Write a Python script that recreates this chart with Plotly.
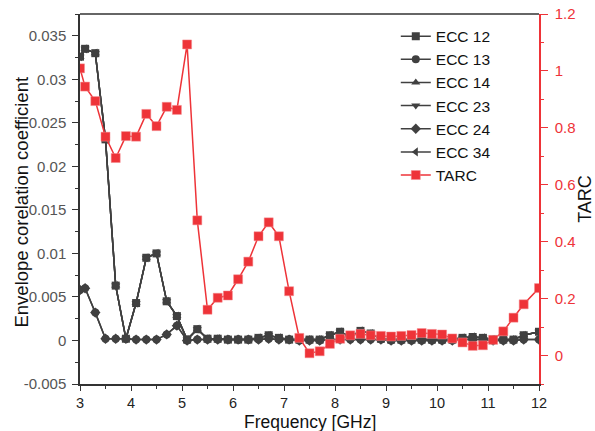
import plotly.graph_objects as go

freq = [3.0, 3.1, 3.3, 3.5, 3.7, 3.9, 4.1, 4.3, 4.5, 4.7, 4.9, 5.1, 5.3, 5.5, 5.7, 5.9,
        6.1, 6.3, 6.5, 6.7, 6.9, 7.1, 7.3, 7.5, 7.7, 7.9, 8.1, 8.3, 8.5, 8.7, 8.9,
        9.1, 9.3, 9.5, 9.7, 9.9, 10.1, 10.3, 10.5, 10.7, 10.9, 11.1, 11.3, 11.5, 11.7, 12.0]

tarc = [1.009, 0.945, 0.894, 0.769, 0.694, 0.771, 0.769, 0.849, 0.806, 0.874, 0.863, 1.093,
        0.475, 0.161, 0.203, 0.211, 0.268, 0.330, 0.419, 0.468, 0.419, 0.226, 0.062, 0.008,
        0.015, 0.041, 0.059, 0.071, 0.076, 0.071, 0.069, 0.067, 0.069, 0.072, 0.079, 0.076,
        0.074, 0.060, 0.046, 0.034, 0.036, 0.055, 0.085, 0.133, 0.180, 0.237]

# adjacent-port pairs (upper curve)
ecc_high = [0.0326, 0.0335, 0.0330, 0.0231, 0.0063, 0.0002, 0.0043, 0.0095, 0.0100, 0.0045,
            0.0028, 0.0001, 0.0013, 0.0002, 0.0002, 0.0001, 0.0001, 0.0001, 0.0003, 0.0006,
            0.0003, 0.0001, 0.0001, 0.0001, 0.0001, 0.0006, 0.0010, 0.0004, 0.0011, 0.0008,
            0.0002, 0.0001, 0.0001, 0.0001, 0.0001, 0.0001, 0.0001, 0.0001, 0.0003, 0.0004,
            0.0003, 0.0001, 0.0001, 0.0001, 0.0006, 0.0010]
# diagonal-port pairs (lower curve)
ecc_low = [0.0058, 0.0060, 0.0032, 0.0002, 0.0002, 0.0002, 0.0001, 0.0001, 0.0001, 0.0007,
           0.0017, 0.0000, 0.0001, 0.0001, 0.0001, 0.0001, 0.0001, 0.0001, 0.0001, 0.0002,
           0.0001, 0.0001, 0.0000, 0.0000, 0.0000, 0.0001, 0.0001, 0.0001, 0.0001, 0.0001,
           0.0001, 0.0000, 0.0000, 0.0000, 0.0000, 0.0000, 0.0000, 0.0000, 0.0001, 0.0001,
           0.0001, 0.0000, 0.0000, 0.0000, 0.0001, 0.0001]

ecc_names = ["ECC 12", "ECC 13", "ECC 14", "ECC 23", "ECC 24", "ECC 34"]
ecc_values = [ecc_high, ecc_low, ecc_high, ecc_high, ecc_low, ecc_high]
ecc_symbols = ["square", "circle", "triangle-up", "triangle-down", "diamond", "triangle-left"]

GRAY = "#404040"
RED = "#EE3338"
FONT = "Liberation Sans, Arial, sans-serif"

fig = go.Figure()
for name, vals, sym in zip(ecc_names, ecc_values, ecc_symbols):
    fig.add_trace(go.Scatter(
        x=freq, y=vals, name=name, mode="lines+markers",
        line=dict(color=GRAY, width=1.5),
        marker=dict(symbol=sym, size=8, color=GRAY),
        yaxis="y"))

fig.add_trace(go.Scatter(
    x=freq, y=tarc, name="TARC", mode="lines+markers",
    line=dict(color=RED, width=1.5),
    marker=dict(symbol="square", size=9, color=RED, line=dict(color="#F58A8E", width=0.5)),
    yaxis="y2"))

fig.update_layout(
    width=595, height=431,
    margin=dict(l=80, r=56, t=14, b=47, autoexpand=False),
    paper_bgcolor="white", plot_bgcolor="white",
    font=dict(family=FONT, size=15, color="#222222"),
    showlegend=True,
    legend=dict(x=0.688, y=0.985, xanchor="left", yanchor="top",
                bgcolor="rgba(0,0,0,0)", font=dict(size=15.5, color="#111111"),
                tracegroupgap=0, itemwidth=30),
    xaxis=dict(
        range=[3, 12], tickmode="array", tickvals=list(range(3, 13)),
        ticks="outside", ticklen=5, tickwidth=1.2, tickcolor="#333333",
        minor=dict(dtick=0.5, ticks="outside", ticklen=3, tickcolor="#333333"),
        showline=True, linecolor="#333333", linewidth=1.5, mirror=False,
        showgrid=False, zeroline=False, automargin=False,
        tickfont=dict(size=14.5, color="#222222")),
    yaxis=dict(
        range=[-0.005, 0.0375], tickmode="array",
        tickvals=[-0.005, 0, 0.005, 0.01, 0.015, 0.02, 0.025, 0.03, 0.035],
        ticktext=["-0.005", "0", "0.005", "0.01", "0.015", "0.02", "0.025", "0.03", "0.035"],
        ticks="outside", ticklen=6, tickwidth=1.2, tickcolor="#333333",
        minor=dict(dtick=0.0025, tick0=0, ticks="outside", ticklen=3, tickcolor="#333333"),
        showline=True, linecolor="#333333", linewidth=1.5,
        showgrid=False, zeroline=False, ticklabelstandoff=3, automargin=False,
        tickfont=dict(size=15, color="#555555")),
    yaxis2=dict(
        range=[-0.1, 1.2], overlaying="y", side="right", anchor="x",
        tickmode="array", tickvals=[0, 0.2, 0.4, 0.6, 0.8, 1.0, 1.2],
        ticktext=["0", "0.2", "0.4", "0.6", "0.8", "1", "1.2"],
        ticks="outside", ticklen=7, tickwidth=1.2, tickcolor=RED,
        minor=dict(dtick=0.1, tick0=0, ticks="outside", ticklen=3, tickcolor=RED),
        showline=True, linecolor=RED, linewidth=1.5,
        showgrid=False, zeroline=False, ticklabelstandoff=4, automargin=False,
        tickfont=dict(size=15, color=RED),
        title=dict(text="TARC", font=dict(size=18, color="#111111"), standoff=0)),
)

# axis titles placed as in the original
fig.add_annotation(text="Envelope corelation coefficient", textangle=-90,
                   xref="paper", yref="paper", x=-0.1285, y=0.4905,
                   xanchor="center", yanchor="middle", showarrow=False,
                   font=dict(family=FONT, size=18.5, color="#111111"))
fig.add_annotation(text="Frequency [GHz]",
                   xref="paper", yref="paper", x=0.5, y=-0.1015,
                   xanchor="center", yanchor="middle", showarrow=False,
                   font=dict(family=FONT, size=17.5, color="#111111"))

# top frame line
fig.add_shape(type="line", xref="paper", yref="paper", x0=0, x1=1, y0=1, y1=1,
              line=dict(color="#333333", width=1.5))

fig.write_html("out.html", config={"displayModeBar": False},
               post_script="document.body.style.margin='0';document.body.style.padding='0';")
